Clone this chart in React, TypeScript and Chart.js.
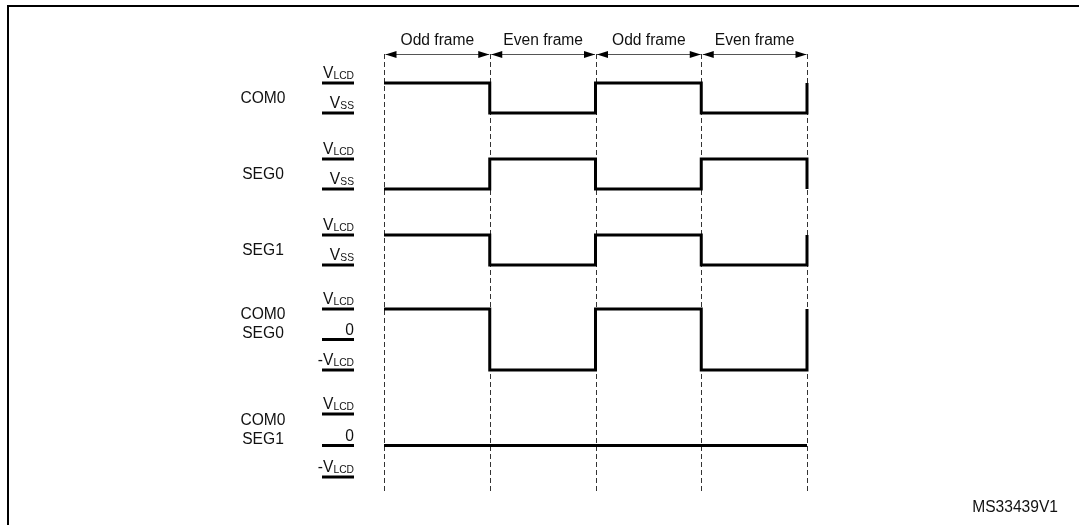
import React, { useEffect, useRef } from 'react';
import { Chart, registerables } from 'chart.js';

Chart.register(...registerables);

// ---------- data ----------
const frameLabels = ['Odd frame', 'Even frame', 'Odd frame', 'Even frame'];
const frameTimes = [0, 1, 2, 3, 4];
const com0 = [1, 0, 1, 0, 1];
const seg0 = [0, 1, 0, 1, 0];
const seg1 = [1, 0, 1, 0, 1];
const com0MinusSeg0 = [1, -1, 1, -1, 1];
const com0MinusSeg1 = [0, 0, 0, 0, 0];
const rowNames = [['COM0'], ['SEG0'], ['SEG1'], ['COM0', 'SEG0'], ['COM0', 'SEG1']];
const digitalLevels = [
  { value: 1, main: 'V', sub: 'LCD' },
  { value: 0, main: 'V', sub: 'SS' },
];
const differenceLevels = [
  { value: 1, main: 'V', sub: 'LCD' },
  { value: 0, main: '0', sub: '' },
  { value: -1, main: '-V', sub: 'LCD' },
];
const figureId = 'MS33439V1';

// ---------- layout ----------
const W = 1080;
const H = 525;
const AREA_LEFT = 384;
const AREA_RIGHT = 807;
const AREA_TOP = 54;
const AREA_BOTTOM = 492;
const rowTopPx = [83, 159, 235, 309, 414];
const rowUnitPx = [30, 30, 30, 30.5, 31.5];
const FONT = '"Liberation Sans", Arial, Helvetica, sans-serif';
const MAIN_SIZE = 15.6;
const SUB_SIZE = 10.3;

const rowSeries = [com0, seg0, seg1, com0MinusSeg0, com0MinusSeg1];
const rowLevels = [digitalLevels, digitalLevels, digitalLevels, differenceLevels, differenceLevels];

function axisRange(r: number) {
  const areaH = AREA_BOTTOM - AREA_TOP;
  const unit = rowUnitPx[r];
  const max = 1 + (rowTopPx[r] - AREA_TOP) / unit;
  const min = max - areaH / unit;
  return { min, max };
}

const diagramPlugin = {
  id: 'timingDiagram',
  beforeDatasetsDraw(chart: any) {
    const ctx = chart.ctx as CanvasRenderingContext2D;
    const xs = chart.scales.x;
    const { top, bottom } = chart.chartArea;
    ctx.save();
    // frame border
    ctx.strokeStyle = '#000';
    ctx.lineWidth = 2;
    ctx.beginPath();
    ctx.moveTo(8, H);
    ctx.lineTo(8, 6);
    ctx.lineTo(1079, 6);
    ctx.stroke();

    // dashed frame boundaries
    ctx.strokeStyle = '#333';
    ctx.lineWidth = 1;
    ctx.setLineDash([5, 3]);
    frameTimes.forEach((t) => {
      const x = Math.round(xs.getPixelForValue(t)) + 0.5;
      ctx.beginPath();
      ctx.moveTo(x, top);
      ctx.lineTo(x, bottom);
      ctx.stroke();
    });
    ctx.setLineDash([]);

    // arrows + frame labels
    const ay = top + 0.5;
    frameLabels.forEach((lab, i) => {
      const x0 = xs.getPixelForValue(frameTimes[i]) + 1.5;
      const x1 = xs.getPixelForValue(frameTimes[i + 1]) - 0.5;
      ctx.strokeStyle = '#555';
      ctx.lineWidth = 1;
      ctx.beginPath();
      ctx.moveTo(x0, ay);
      ctx.lineTo(x1, ay);
      ctx.stroke();
      ctx.fillStyle = '#000';
      ctx.beginPath();
      ctx.moveTo(x0, ay);
      ctx.lineTo(x0 + 11, ay - 3.5);
      ctx.lineTo(x0 + 11, ay + 3.5);
      ctx.closePath();
      ctx.fill();
      ctx.beginPath();
      ctx.moveTo(x1, ay);
      ctx.lineTo(x1 - 11, ay - 3.5);
      ctx.lineTo(x1 - 11, ay + 3.5);
      ctx.closePath();
      ctx.fill();
      ctx.fillStyle = '#111';
      ctx.font = `${MAIN_SIZE}px ${FONT}`;
      ctx.textAlign = 'center';
      ctx.textBaseline = 'alphabetic';
      ctx.fillText(lab, (x0 + x1) / 2, 45);
    });

    // row labels and level labels
    rowNames.forEach((names, r) => {
      const ys = chart.scales['y' + r];
      const yHigh = ys.getPixelForValue(1);
      const yZero = ys.getPixelForValue(0);
      const center = (yHigh + yZero) / 2 - 1;
      ctx.fillStyle = '#111';
      ctx.font = `${MAIN_SIZE}px ${FONT}`;
      ctx.textAlign = 'center';
      ctx.textBaseline = 'alphabetic';
      if (names.length === 1) {
        ctx.fillText(names[0], 263, center + 5.5);
      } else {
        ctx.fillText(names[0], 263, center - 9.5 + 5.5);
        ctx.fillText(names[1], 263, center + 9.5 + 5.5);
      }
      rowLevels[r].forEach((lv) => {
        const y = ys.getPixelForValue(lv.value);
        ctx.strokeStyle = '#000';
        ctx.lineWidth = 3;
        ctx.beginPath();
        ctx.moveTo(322, y);
        ctx.lineTo(354, y);
        ctx.stroke();
        ctx.font = `${MAIN_SIZE}px ${FONT}`;
        const wMain = ctx.measureText(lv.main).width;
        ctx.font = `${SUB_SIZE}px ${FONT}`;
        const wSub = lv.sub ? ctx.measureText(lv.sub).width : 0;
        const start = 354 - wMain - wSub;
        ctx.textAlign = 'left';
        ctx.fillStyle = '#111';
        ctx.font = `${MAIN_SIZE}px ${FONT}`;
        ctx.fillText(lv.main, start, y - 5);
        if (lv.sub) {
          ctx.font = `${SUB_SIZE}px ${FONT}`;
          ctx.fillText(lv.sub, start + wMain, y - 4.5);
        }
      });
    });

    // figure id
    ctx.fillStyle = '#111';
    ctx.font = `${MAIN_SIZE}px ${FONT}`;
    ctx.textAlign = 'right';
    ctx.textBaseline = 'alphabetic';
    ctx.fillText(figureId, 1058, 512);
    ctx.restore();
  },
};

export default function App() {
  const canvasRef = useRef<HTMLCanvasElement | null>(null);

  useEffect(() => {
    if (!canvasRef.current) return;
    const scales: any = {
      x: {
        type: 'linear',
        min: frameTimes[0],
        max: frameTimes[frameTimes.length - 1],
        display: false,
      },
    };
    rowSeries.forEach((_, r) => {
      const { min, max } = axisRange(r);
      scales['y' + r] = { type: 'linear', min, max, display: false };
    });
    const chart = new Chart(canvasRef.current, {
      type: 'line',
      data: {
        datasets: rowSeries.map((series, r) => ({
          label: rowNames[r].join(' - '),
          data: series.map((v, i) => ({ x: frameTimes[i], y: v })),
          yAxisID: 'y' + r,
          stepped: true,
          borderColor: '#000',
          borderWidth: 3,
          borderCapStyle: 'butt',
          borderJoinStyle: 'miter',
          pointRadius: 0,
          fill: false,
          clip: false,
        })) as any,
      },
      options: {
        responsive: false,
        maintainAspectRatio: false,
        devicePixelRatio: 1,
        animation: false,
        layout: {
          padding: {
            left: AREA_LEFT,
            right: W - AREA_RIGHT,
            top: AREA_TOP,
            bottom: H - AREA_BOTTOM,
          },
        },
        scales,
        plugins: {
          legend: { display: false },
          tooltip: { enabled: false },
        },
      },
      plugins: [diagramPlugin],
    });
    return () => chart.destroy();
  }, []);

  return (
    <div style={{ position: 'absolute', left: 0, top: 0, width: W, height: H, background: '#fff' }}>
      <canvas ref={canvasRef} width={W} height={H} style={{ display: 'block' }} />
    </div>
  );
}
